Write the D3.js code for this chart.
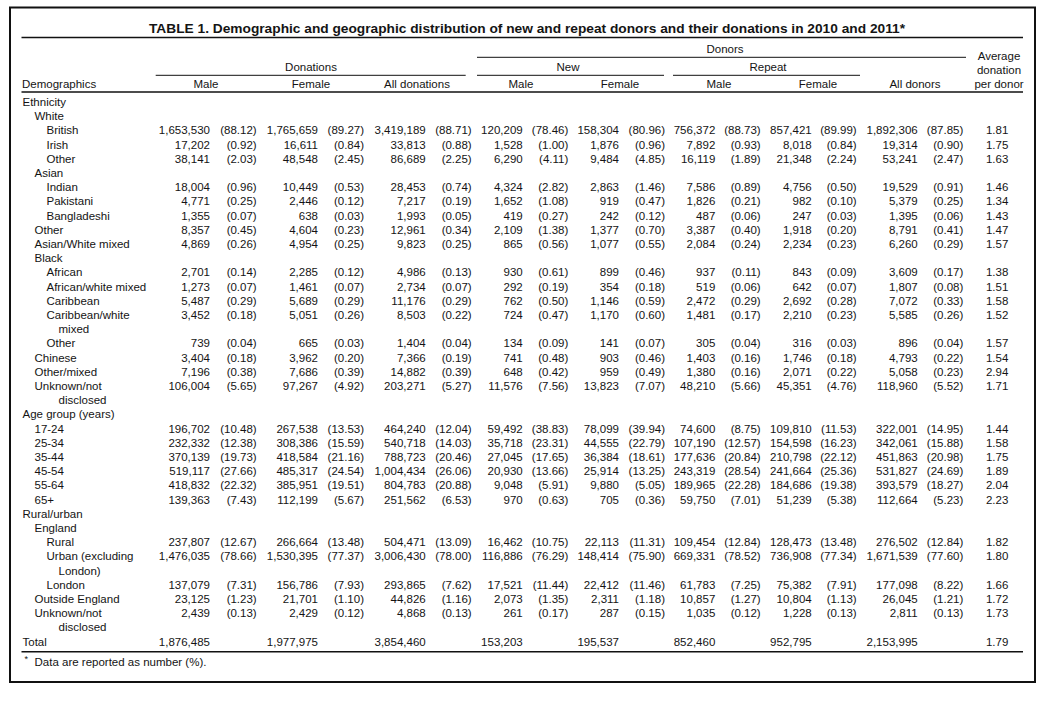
<!DOCTYPE html>
<html><head><meta charset="utf-8">
<script src="https://cdn.jsdelivr.net/npm/d3@7"></script>
<style>
body{margin:0;background:#fff}
text{font-family:"Liberation Sans",Arial,Helvetica,sans-serif;fill:#141414}
</style>
</head><body><svg id="c" width="1061" height="704"></svg>
<script>
// ---------------- DATA ----------------
const title = "TABLE 1. Demographic and geographic distribution of new and repeat donors and their donations in 2010 and 2011*";
const footnote = "Data are reported as number (%).";
const rowLabels = ["Ethnicity","White","British","Irish","Other","Asian","Indian","Pakistani","Bangladeshi","Other","Asian/White mixed","Black","African","African/white mixed","Caribbean","Caribbean/white\nmixed","Other","Chinese","Other/mixed","Unknown/not\ndisclosed","Age group (years)","17-24","25-34","35-44","45-54","55-64","65+","Rural/urban","England","Rural","Urban (excluding\nLondon)","London","Outside England","Unknown/not\ndisclosed","Total"];
const rowLevels = [0,1,2,2,2,1,2,2,2,1,1,1,2,2,2,2,2,1,1,1,0,1,1,1,1,1,1,0,1,2,2,2,1,1,0];
const groupHeaders = ["Donations","New","Repeat","Donors"];
const columnHeaders = ["Male","Female","All donations","Male","Female","Male","Female","All donors"];
const avgHeader = ["Average","donation","per donor"];
const firstHeader = "Demographics";

const donMale = [null,null,1653530,17202,38141,null,18004,4771,1355,8357,4869,null,2701,1273,5487,3452,739,3404,7196,106004,null,196702,232332,370139,519117,418832,139363,null,null,237807,1476035,137079,23125,2439,1876485];
const donMalePct = [null,null,88.12,0.92,2.03,null,0.96,0.25,0.07,0.45,0.26,null,0.14,0.07,0.29,0.18,0.04,0.18,0.38,5.65,null,10.48,12.38,19.73,27.66,22.32,7.43,null,null,12.67,78.66,7.31,1.23,0.13,null];
const donFemale = [null,null,1765659,16611,48548,null,10449,2446,638,4604,4954,null,2285,1461,5689,5051,665,3962,7686,97267,null,267538,308386,418584,485317,385951,112199,null,null,266664,1530395,156786,21701,2429,1977975];
const donFemalePct = [null,null,89.27,0.84,2.45,null,0.53,0.12,0.03,0.23,0.25,null,0.12,0.07,0.29,0.26,0.03,0.20,0.39,4.92,null,13.53,15.59,21.16,24.54,19.51,5.67,null,null,13.48,77.37,7.93,1.10,0.12,null];
const donAll = [null,null,3419189,33813,86689,null,28453,7217,1993,12961,9823,null,4986,2734,11176,8503,1404,7366,14882,203271,null,464240,540718,788723,1004434,804783,251562,null,null,504471,3006430,293865,44826,4868,3854460];
const donAllPct = [null,null,88.71,0.88,2.25,null,0.74,0.19,0.05,0.34,0.25,null,0.13,0.07,0.29,0.22,0.04,0.19,0.39,5.27,null,12.04,14.03,20.46,26.06,20.88,6.53,null,null,13.09,78.00,7.62,1.16,0.13,null];
const newMale = [null,null,120209,1528,6290,null,4324,1652,419,2109,865,null,930,292,762,724,134,741,648,11576,null,59492,35718,27045,20930,9048,970,null,null,16462,116886,17521,2073,261,153203];
const newMalePct = [null,null,78.46,1.00,4.11,null,2.82,1.08,0.27,1.38,0.56,null,0.61,0.19,0.50,0.47,0.09,0.48,0.42,7.56,null,38.83,23.31,17.65,13.66,5.91,0.63,null,null,10.75,76.29,11.44,1.35,0.17,null];
const newFemale = [null,null,158304,1876,9484,null,2863,919,242,1377,1077,null,899,354,1146,1170,141,903,959,13823,null,78099,44555,36384,25914,9880,705,null,null,22113,148414,22412,2311,287,195537];
const newFemalePct = [null,null,80.96,0.96,4.85,null,1.46,0.47,0.12,0.70,0.55,null,0.46,0.18,0.59,0.60,0.07,0.46,0.49,7.07,null,39.94,22.79,18.61,13.25,5.05,0.36,null,null,11.31,75.90,11.46,1.18,0.15,null];
const repMale = [null,null,756372,7892,16119,null,7586,1826,487,3387,2084,null,937,519,2472,1481,305,1403,1380,48210,null,74600,107190,177636,243319,189965,59750,null,null,109454,669331,61783,10857,1035,852460];
const repMalePct = [null,null,88.73,0.93,1.89,null,0.89,0.21,0.06,0.40,0.24,null,0.11,0.06,0.29,0.17,0.04,0.16,0.16,5.66,null,8.75,12.57,20.84,28.54,22.28,7.01,null,null,12.84,78.52,7.25,1.27,0.12,null];
const repFemale = [null,null,857421,8018,21348,null,4756,982,247,1918,2234,null,843,642,2692,2210,316,1746,2071,45351,null,109810,154598,210798,241664,184686,51239,null,null,128473,736908,75382,10804,1228,952795];
const repFemalePct = [null,null,89.99,0.84,2.24,null,0.50,0.10,0.03,0.20,0.23,null,0.09,0.07,0.28,0.23,0.03,0.18,0.22,4.76,null,11.53,16.23,22.12,25.36,19.38,5.38,null,null,13.48,77.34,7.91,1.13,0.13,null];
const allDonors = [null,null,1892306,19314,53241,null,19529,5379,1395,8791,6260,null,3609,1807,7072,5585,896,4793,5058,118960,null,322001,342061,451863,531827,393579,112664,null,null,276502,1671539,177098,26045,2811,2153995];
const allDonorsPct = [null,null,87.85,0.90,2.47,null,0.91,0.25,0.06,0.41,0.29,null,0.17,0.08,0.33,0.26,0.04,0.22,0.23,5.52,null,14.95,15.88,20.98,24.69,18.27,5.23,null,null,12.84,77.60,8.22,1.21,0.13,null];
const avgDonation = [null,null,1.81,1.75,1.63,null,1.46,1.34,1.43,1.47,1.57,null,1.38,1.51,1.58,1.52,1.57,1.54,2.94,1.71,null,1.44,1.58,1.75,1.89,2.04,2.23,null,null,1.82,1.80,1.66,1.72,1.73,1.79];

// ---------------- LAYOUT ----------------
const numberCols = [donMale, donFemale, donAll, newMale, newFemale, repMale, repFemale, allDonors];
const pctCols = [donMalePct, donFemalePct, donAllPct, newMalePct, newFemalePct, repMalePct, repFemalePct, allDonorsPct];
const colIdx = d3.range(9);
const xNum = d3.scaleOrdinal().domain(colIdx).range([210, 318, 425.7, 522.7, 619, 715.3, 811.7, 917.7, 1008.3]);
const xPct = d3.scaleOrdinal().domain(colIdx).range([256.7, 364, 471.7, 568.3, 665, 760.7, 856.7, 963.3]);
const xHead = d3.scaleOrdinal().domain(colIdx).range([206, 311, 417, 521, 620, 719, 818, 915, 999]);
const xIndent = d3.scaleOrdinal().domain([0,1,2,3]).range([22.5, 34.5, 46.5, 58.5]);

// line index → baseline
let lineIdx = [], li = 0;
rowLabels.forEach(l => { lineIdx.push(li); li += l.split("\n").length; });
const y = d3.scaleLinear().domain([0, li - 1]).range([106, 645.6]);

const fmtN = d3.format(",");
const fmtP = d3.format(".2f");

const svg = d3.select("#c");
svg.append("rect").attr("width",1061).attr("height",704).attr("fill","#fff");
svg.append("rect").attr("x",10).attr("y",7.5).attr("width",1025).attr("height",674.5)
  .attr("fill","none").attr("stroke","#111").attr("stroke-width",2);

const FS = 11.5;
// title
svg.append("text").attr("x",149).attr("y",33.3).attr("font-weight","bold").attr("font-size",13.5)
  .attr("textLength",756).attr("lengthAdjust","spacingAndGlyphs").text(title);

const hline = (x1,x2,yy,w) => svg.append("line").attr("x1",x1).attr("x2",x2).attr("y1",yy).attr("y2",yy)
  .attr("stroke","#111").attr("stroke-width",w);
hline(21.5,1023,37.5,1.5);
hline(477,966,57.3,1);
hline(155.7,465.7,75.3,1);
hline(477,664,75.3,1);
hline(673,860,75.3,1);
hline(21.5,1023,92,1.5);
hline(21.5,1023,651.7,1.5);

// group headers
const groupX = [311, 568, 768, 725];
const groupY = [70.5, 70.5, 70.5, 52.5];
svg.selectAll("text.grp").data(groupHeaders).join("text").attr("class","grp")
  .attr("x",(d,i)=>groupX[i]).attr("y",(d,i)=>groupY[i]).attr("text-anchor","middle")
  .attr("font-size",FS).text(d=>d);

svg.append("text").attr("x",22).attr("y",87.5).attr("font-size",FS).text(firstHeader);
svg.selectAll("text.colh").data(columnHeaders).join("text").attr("class","colh")
  .attr("x",(d,i)=>xHead(i)).attr("y",87.5).attr("text-anchor","middle").attr("font-size",FS).text(d=>d);
svg.selectAll("text.avgh").data(avgHeader).join("text").attr("class","avgh")
  .attr("x",xHead(8)).attr("y",(d,i)=>59.5+i*14).attr("text-anchor","middle").attr("font-size",FS).text(d=>d);

// row labels
rowLabels.forEach((lab, r) => {
  lab.split("\n").forEach((part, k) => {
    svg.append("text").attr("x", xIndent(k === 0 ? rowLevels[r] : 3))
      .attr("y", y(lineIdx[r] + k)).attr("font-size",FS).text(part);
  });
});

// numbers
const g = svg.append("g").attr("font-size",FS).attr("text-anchor","end");
rowLabels.forEach((lab, r) => {
  const yy = y(lineIdx[r]);
  numberCols.forEach((col, c) => {
    if (col[r] != null) g.append("text").attr("x", xNum(c)).attr("y", yy).text(fmtN(col[r]));
  });
  pctCols.forEach((col, c) => {
    if (col[r] != null) g.append("text").attr("x", xPct(c)).attr("y", yy).text("(" + fmtP(col[r]) + ")");
  });
  if (avgDonation[r] != null) g.append("text").attr("x", xNum(8)).attr("y", yy).text(fmtP(avgDonation[r]));
});

// footnote
svg.append("text").attr("x",24.5).attr("y",662).attr("font-size",9).text("*");
svg.append("text").attr("x",34.5).attr("y",665.5).attr("font-size",FS).text(footnote);
</script>
</body></html>
